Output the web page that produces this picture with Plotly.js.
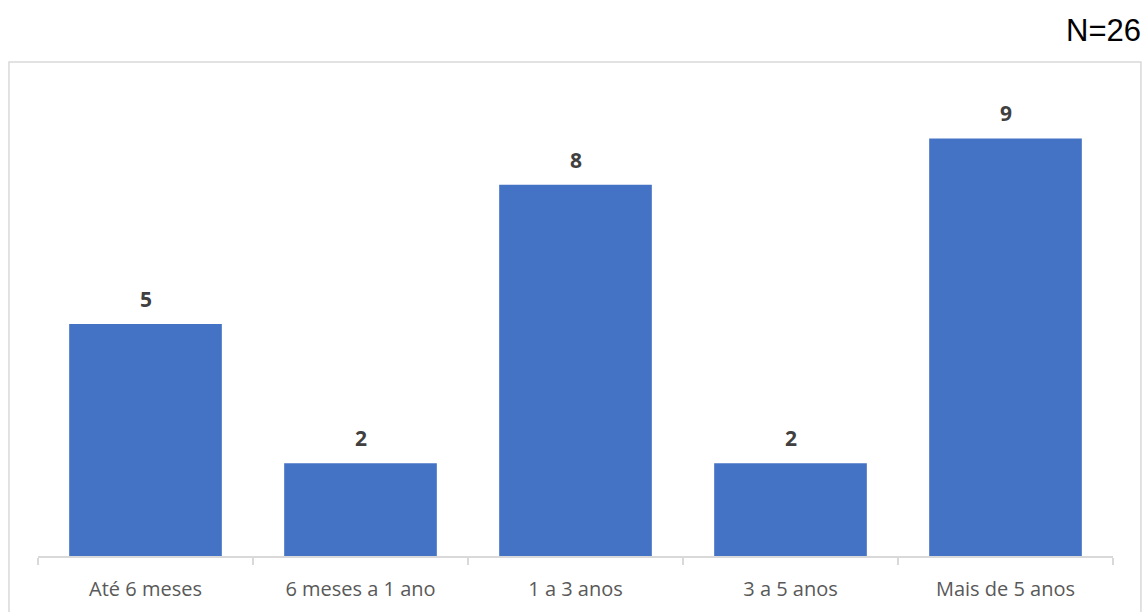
<!DOCTYPE html>
<html>
<head>
<meta charset="utf-8">
<script src="https://cdn.plot.ly/plotly-3.0.1.min.js"></script>
<style>html,body{margin:0;padding:0;background:#fff;}#chart{width:1146px;height:612px;}</style>
</head>
<body>
<div id="chart"></div>
<script>
const categories = ["Até 6 meses", "6 meses a 1 ano", "1 a 3 anos", "3 a 5 anos", "Mais de 5 anos"];
const values = [5, 2, 8, 2, 9];
const sampleLabel = "N=26";

const trace = {
  type: "bar",
  x: categories,
  y: values,
  marker: { color: "#4472C4" },
  hoverinfo: "x+y"
};

const annotations = categories.map((c, i) => ({
  x: c, y: values[i], xref: "x", yref: "y",
  text: "<b>" + values[i] + "</b>",
  showarrow: false, yanchor: "bottom", yshift: 9,
  font: { family: "Open Sans, sans-serif", size: 21, color: "#404040" }
}));
annotations.push({
  xref: "paper", yref: "paper", x: 1.028, y: 1.133, xanchor: "right", yanchor: "middle",
  text: sampleLabel, showarrow: false,
  font: { family: "Liberation Sans, Arial, sans-serif", size: 31, color: "#000000" }
});

const layout = {
  width: 1146, height: 612,
  margin: { l: 38, r: 33, t: 92, b: 56, pad: 0 },
  paper_bgcolor: "#ffffff", plot_bgcolor: "#ffffff",
  bargap: 0.29,
  showlegend: false,
  xaxis: {
    type: "category",
    showline: true, linecolor: "#d9d9d9", linewidth: 1.5,
    ticks: "outside", tickson: "boundaries", ticklen: 7, tickcolor: "#d9d9d9", tickwidth: 1.5,
    tickfont: { family: "Open Sans, sans-serif", size: 20, color: "#595959" },
    ticklabelstandoff: 14,
    showgrid: false, zeroline: false
  },
  yaxis: {
    range: [0, 10], visible: false, showgrid: false, zeroline: false
  },
  annotations: annotations,
  shapes: [{
    type: "rect", xref: "paper", yref: "paper",
    x0: -0.027, x1: 1.026, y0: -0.3, y1: 1.0647,
    line: { color: "#d9d9d9", width: 1.5 }, fillcolor: "rgba(0,0,0,0)", layer: "below"
  }]
};

Plotly.newPlot("chart", [trace], layout, { displayModeBar: false, staticPlot: true });
</script>
</body>
</html>
